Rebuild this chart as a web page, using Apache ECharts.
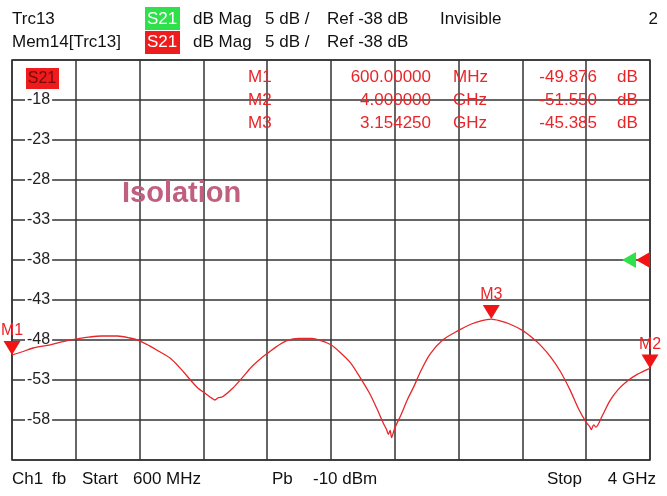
<!DOCTYPE html>
<html>
<head>
<meta charset="utf-8">
<script src="https://cdn.jsdelivr.net/npm/echarts@6/dist/echarts.min.js"></script>
<style>
  html, body { margin: 0; padding: 0; background: #fff; }
  #chart { width: 667px; height: 496px; }
</style>
</head>
<body>
<div id="chart"></div>
<script>
// trace data (frequency in MHz, S21 in dB)
var freqMHz = [600, 651, 712, 804, 872, 940, 1008, 1076, 1161, 1229, 1280, 1331, 1382, 1450, 1518, 1586,
  1637, 1666, 1681, 1700, 1722, 1773, 1824, 1875, 1926, 1960, 2011, 2062, 2130, 2198, 2249, 2300, 2351, 2402,
  2453, 2504, 2545, 2579, 2596, 2606, 2615, 2623, 2632, 2640, 2674, 2708, 2742, 2776, 2827, 2895, 2980, 3048, 3099,
  3154.25, 3201, 3252, 3320, 3371, 3422, 3473, 3524, 3575, 3619, 3660, 3678, 3687, 3700, 3711, 3745, 3786, 3830,
  3881, 3932, 4000];
var s21dB = [-49.88, -49.5, -49.0, -48.6, -48.2, -47.9, -47.65, -47.5, -47.5, -47.75, -48.1, -48.7, -49.4, -50.4, -52.1, -53.9,
  -54.8, -55.3, -55.5, -55.2, -55.1, -54.1, -52.8, -51.4, -50.3, -49.7, -48.8, -48.1, -47.8, -47.8, -48.1, -48.6, -49.6, -50.8,
  -52.6, -54.6, -56.6, -58.4, -59.2, -59.8, -59.3, -60.2, -59.6, -59.0, -57.3, -55.4, -53.8, -52.0, -49.8, -48.0, -46.8, -46.0, -45.6,
  -45.385, -45.6, -46.0, -46.8, -47.7, -48.8, -50.2, -52.0, -54.3, -56.6, -58.3, -58.8, -59.2, -58.6, -58.9, -57.5, -55.6, -54.2,
  -53.1, -52.3, -51.55];

// markers
var markerNames = ['M1', 'M2', 'M3'];
var markerFreq = [600, 4000, 3154.25];
var markerVal = [-49.876, -51.55, -45.385];
var markerFreqText = ['600.00000', '4.000000', '3.154250'];
var markerUnit = ['MHz', 'GHz', 'GHz'];
var markerValText = ['-49.876', '-51.550', '-45.385'];

var refLevel = -38;
var startMHz = 600, stopMHz = 4000, divMHz = 340;
var yMin = -63, yMax = -13, yDiv = 5;

var red = '#e8262a';
var font = '"Liberation Sans", Arial, sans-serif';

var chart = echarts.init(document.getElementById('chart'));

var traceData = freqMHz.map(function (f, i) { return [f, s21dB[i]]; });

function txt(text, x, y, opts) {
    opts = opts || {};
    return {
        type: 'text', x: x, y: y, z: 100,
        style: {
            text: text,
            fill: opts.fill || '#111',
            font: (opts.weight || 'normal') + ' ' + (opts.size || 17) + 'px ' + font,
            align: opts.align || 'left',
            verticalAlign: 'middle'
        }
    };
}

var graphics = [
    // header
    txt('Trc13', 12, 19),
    { type: 'rect', shape: { x: 145, y: 7, width: 35, height: 23 }, style: { fill: '#2ee04a' }, z: 99 },
    txt('S21', 162, 19, { fill: '#fff', align: 'center' }),
    txt('dB Mag', 193, 19),
    txt('5 dB /', 265, 19),
    txt('Ref -38 dB', 327, 19),
    txt('Invisible', 440, 19),
    txt('2', 658, 19, { align: 'right' }),
    txt('Mem14[Trc13]', 12, 42),
    { type: 'rect', shape: { x: 145, y: 31, width: 35, height: 23 }, style: { fill: '#ee1c1c' }, z: 99 },
    txt('S21', 162, 42, { fill: '#fff', align: 'center' }),
    txt('dB Mag', 193, 42),
    txt('5 dB /', 265, 42),
    txt('Ref -38 dB', 327, 42),
    // trace label in plot
    { type: 'rect', shape: { x: 26, y: 68, width: 33, height: 21 }, style: { fill: '#ee1c1c' }, z: 99 },
    txt('S21', 42, 79, { fill: '#7a0a0a', align: 'center', size: 16 }),
    txt('Isolation', 122, 194, { fill: '#c0607f', weight: 'bold', size: 29 }),
    // footer
    txt('Ch1', 12, 479),
    txt('fb', 52, 479),
    txt('Start', 82, 479),
    txt('600 MHz', 133, 479),
    txt('Pb', 272, 479),
    txt('-10 dBm', 313, 479),
    txt('Stop', 547, 479),
    txt('4 GHz', 656, 479, { align: 'right' })
];

// marker table
markerNames.forEach(function (m, i) {
    var y = 77 + 23 * i;
    graphics.push(txt(m, 248, y, { fill: red }));
    graphics.push(txt(markerFreqText[i], 431, y, { fill: red, align: 'right' }));
    graphics.push(txt(markerUnit[i], 453, y, { fill: red }));
    graphics.push(txt(markerValText[i], 597, y, { fill: red, align: 'right' }));
    graphics.push(txt('dB', 617, y, { fill: red }));
});

var option = {
    animation: false,
    backgroundColor: '#fff',
    grid: {
        left: 12, right: 17, top: 60, bottom: 36,
        show: true, borderColor: '#333', borderWidth: 1.5
    },
    xAxis: {
        type: 'value',
        min: startMHz, max: stopMHz, interval: divMHz,
        axisLine: { show: false },
        axisTick: { show: false },
        axisLabel: { show: false },
        splitLine: { show: true, lineStyle: { color: '#333', width: 1.5 } }
    },
    yAxis: {
        type: 'value',
        min: yMin, max: yMax, interval: yDiv,
        axisLine: { show: false },
        axisTick: { show: false },
        axisLabel: {
            inside: true, margin: 13,
            showMinLabel: false, showMaxLabel: false,
            color: '#222', fontFamily: font, fontSize: 16,
            backgroundColor: '#fff', padding: [0, 2]
        },
        splitLine: { show: true, lineStyle: { color: '#333', width: 1.5 } },
        z: 5
    },
    series: [{
        type: 'line',
        data: traceData,
        showSymbol: false,
        smooth: 0.3,
        lineStyle: { color: red, width: 1.3 },
        z: 10,
        markPoint: {
            symbol: 'triangle',
            symbolRotate: 180,
            symbolSize: [17, 14],
            symbolOffset: [0, -7],
            itemStyle: { color: '#f01414' },
            label: {
                show: true, position: 'top', distance: 2,
                formatter: '{b}', color: red, fontFamily: font, fontSize: 16
            },
            data: markerNames.map(function (m, i) {
                return { name: m, coord: [markerFreq[i], markerVal[i]] };
            })
        }
    }, {
        // reference level arrows
        type: 'line',
        data: [],
        markPoint: {
            symbol: 'triangle',
            symbolRotate: 90,
            symbolSize: [16, 14],
            label: { show: false },
            data: [
                { coord: [stopMHz, refLevel], symbolOffset: [-7, 0], itemStyle: { color: '#f01414' } },
                { coord: [stopMHz, refLevel], symbolOffset: [-21, 0], itemStyle: { color: '#2ee04a' } }
            ]
        }
    }],
    graphic: graphics
};

chart.setOption(option);
</script>
</body>
</html>
